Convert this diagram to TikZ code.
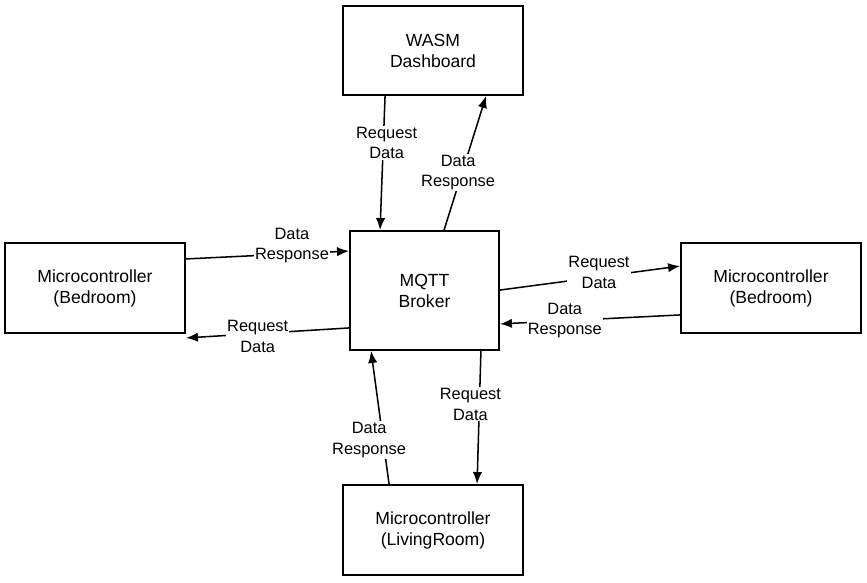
\documentclass[tikz,border=0pt]{standalone}
\usepackage{fontspec}
\setmainfont{Liberation Sans}
\usetikzlibrary{arrows.meta}
\begin{document}
\begin{tikzpicture}[x=0.03cm, y=-0.03cm,
    box/.style={draw=black, line width=1.6pt, align=center, font=\fontsize{15}{18}\selectfont, inner sep=0pt},
    link/.style={line width=1.3pt, -{Latex[length=3.6mm, width=2.8mm]}},
    lbl/.style={fill=white, align=center, inner sep=1pt, font=\fontsize{14}{17.5}\selectfont}]
    \useasboundingbox (0, 0) rectangle (867, 582);

    \node[box, minimum width=5.4cm, minimum height=2.67cm] (wasm) at (433, 50.5) {WASM\\Dashboard};
    \node[box, minimum width=4.47cm, minimum height=3.57cm] (broker) at (424.5, 290.5) {MQTT\\Broker};
    \node[box, minimum width=5.4cm, minimum height=2.7cm] (mcL) at (95, 288) {Microcontroller\\(Bedroom)};
    \node[box, minimum width=5.4cm, minimum height=2.7cm] (mcR) at (771, 288) {Microcontroller\\(Bedroom)};
    \node[box, minimum width=5.4cm, minimum height=2.7cm] (mcB) at (433, 530) {Microcontroller\\(LivingRoom)};

    % dashboard <-> broker
    \draw[link] ([xshift=1.29cm]wasm.south west) -- ([xshift=0.93cm]broker.north west)
        node[lbl, pos=0.35, xshift=0.1cm] {Request\\Data};
    \draw[link] ([xshift=2.85cm]broker.north west) -- ([xshift=4.32cm]wasm.south west)
        node[lbl, pos=0.43, xshift=-0.12cm] {Data\\Response};

    % left microcontroller
    \draw[link] ([yshift=2.25cm]mcL.south east) -- ([yshift=-0.63cm]broker.north west)
        node[lbl, pos=0.65, yshift=0.25cm] {Data\\Response};
    \draw[link] ([yshift=0.69cm]broker.south west) -- ([yshift=-0.12cm]mcL.south east)
        node[lbl, pos=0.56, yshift=-0.09cm] {Request\\Data};

    % right microcontroller
    \draw[link] ([yshift=-1.8cm]broker.north east) -- ([yshift=-0.72cm]mcR.north west)
        node[lbl, pos=0.55, yshift=0.14cm] {Request\\Data};
    \draw[link] ([yshift=0.57cm]mcR.south west) -- ([yshift=0.81cm]broker.south east)
        node[lbl, pos=0.64] {Data\\Response};

    % living room microcontroller
    \draw[link] ([xshift=-0.57cm]broker.south east) -- ([xshift=4.05cm]mcB.north west)
        node[lbl, pos=0.4, xshift=-0.27cm] {Request\\Data};
    \draw[link] ([xshift=1.41cm]mcB.north west) -- ([xshift=0.66cm]broker.south west)
        node[lbl, pos=0.33, xshift=-0.42cm] {Data\\Response};
\end{tikzpicture}
\end{document}
